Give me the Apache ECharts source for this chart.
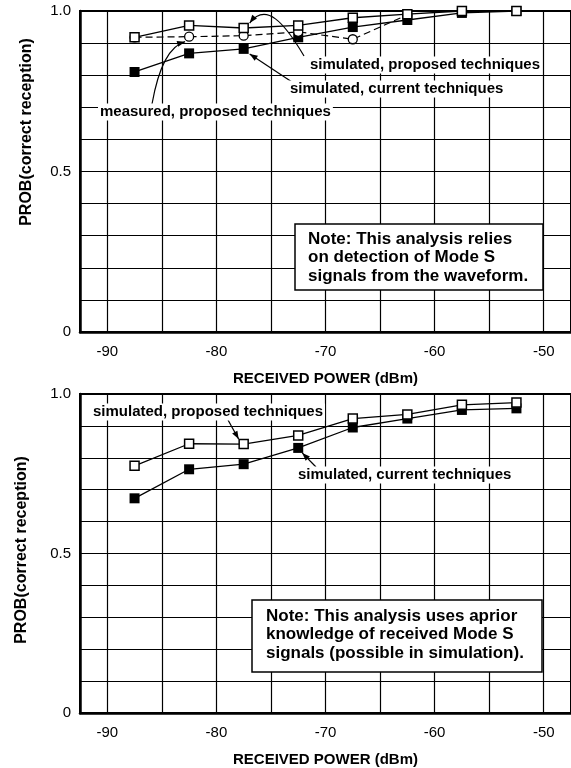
<!DOCTYPE html>
<html>
<head>
<meta charset="utf-8">
<script src="https://cdn.jsdelivr.net/npm/echarts@6/dist/echarts.min.js"></script>
<style>
  html, body { margin: 0; padding: 0; background: #fff; }
  #chart { width: 571px; height: 768px; }
</style>
</head>
<body>
<div id="chart"></div>
<script>
// Received power levels (dBm) at which reception probability was evaluated
const powerDbm = [-87.5, -82.5, -77.5, -72.5, -67.5, -62.5, -57.5, -52.5];
const measuredPowerDbm = [-87.5, -82.5, -77.5, -72.5, -67.5, -62.5];

// Upper panel: detection of Mode S signals from the waveform
const waveformSimProposed = [0.918, 0.955, 0.947, 0.955, 0.979, 0.990, 1.000, 1.000];
const waveformSimCurrent = [0.810, 0.868, 0.882, 0.918, 0.950, 0.972, 0.994, 1.000];
const waveformMeasuredProposed = [0.918, 0.920, 0.923, 0.935, 0.912, 0.988];

// Lower panel: a-priori knowledge of received Mode S signals
const aprioriSimProposed = [0.775, 0.844, 0.843, 0.870, 0.923, 0.936, 0.966, 0.973];
const aprioriSimCurrent = [0.673, 0.764, 0.780, 0.831, 0.895, 0.923, 0.950, 0.955];

// Axis ticks
const xTickLabels = [-90, -80, -70, -60, -50];
const xGridLines = [-90, -85, -80, -75, -70, -65, -60, -55, -50];
const yTickLabels = [[0, '0'], [0.5, '0.5'], [1, '1.0']];

const FONT = '"Liberation Sans", Arial, Helvetica, sans-serif';
const zip = (xs, ys) => ys.map((y, i) => [xs[i], y]);

function yLabel(v) {
  for (const [val, txt] of yTickLabels) {
    if (Math.abs(v - val) < 1e-6) return txt;
  }
  return '';
}

function makeXAxis(g) {
  return {
    type: 'value', gridIndex: g, min: -92.5, max: -47.5,
    name: 'RECEIVED POWER (dBm)', nameLocation: 'middle', nameGap: 39,
    nameTextStyle: { fontFamily: FONT, fontWeight: 'bold', fontSize: 15, color: '#000' },
    axisLine: { show: true, onZero: false, lineStyle: { color: '#000', width: 2.5 } },
    axisTick: { show: false },
    splitLine: { show: false },
    axisLabel: {
      customValues: xTickLabels, color: '#000', fontFamily: FONT, fontSize: 15, margin: 12,
      formatter: v => String(v)
    }
  };
}

function makeYAxis(g) {
  return {
    type: 'value', gridIndex: g, min: 0, max: 1, interval: 0.1,
    axisLine: { show: true, lineStyle: { color: '#000', width: 2.5 } },
    axisTick: { show: false },
    splitLine: { show: true, lineStyle: { color: '#000', width: 1.2 } },
    axisLabel: { color: '#000', fontFamily: FONT, fontSize: 15, margin: 9, formatter: yLabel }
  };
}

function gridLineSeries(g) {
  return {
    type: 'line', xAxisIndex: g, yAxisIndex: g, data: [], silent: true, z: 1,
    markLine: {
      silent: true, symbol: ['none', 'none'], label: { show: false }, animation: false,
      lineStyle: { color: '#000', width: 1.2, type: 'solid' },
      emphasis: { disabled: true },
      data: xGridLines.map(v => ({ xAxis: v }))
    }
  };
}

function openSquares(g, data) {
  return {
    type: 'line', xAxisIndex: g, yAxisIndex: g, data, z: 5,
    symbol: 'rect', symbolSize: 9, showAllSymbol: true,
    lineStyle: { color: '#000', width: 1.3 },
    itemStyle: { color: '#fff', borderColor: '#000', borderWidth: 1.5 }
  };
}

function filledSquares(g, data) {
  return {
    type: 'line', xAxisIndex: g, yAxisIndex: g, data, z: 3,
    symbol: 'rect', symbolSize: 10, showAllSymbol: true,
    lineStyle: { color: '#000', width: 1.3 },
    itemStyle: { color: '#000', borderColor: '#000', borderWidth: 0 }
  };
}

function openCircles(g, data) {
  return {
    type: 'line', xAxisIndex: g, yAxisIndex: g, data, z: 4,
    symbol: 'circle', symbolSize: 9, showAllSymbol: true,
    lineStyle: { color: '#000', width: 1.2, type: [7, 4] },
    itemStyle: { color: '#fff', borderColor: '#000', borderWidth: 1.3 }
  };
}

const chart = echarts.init(document.getElementById('chart'), null, { renderer: 'canvas' });

chart.setOption({
  animation: false,
  backgroundColor: '#fff',
  grid: [
    { left: 80, top: 11, width: 496, height: 321, show: true, borderColor: '#000', borderWidth: 2 },
    { left: 80, top: 394, width: 496, height: 323, show: true, borderColor: '#000', borderWidth: 2 }
  ],
  xAxis: [makeXAxis(0), makeXAxis(1)],
  yAxis: [makeYAxis(0), makeYAxis(1)],
  series: [
    gridLineSeries(0),
    gridLineSeries(1),
    filledSquares(0, zip(powerDbm, waveformSimCurrent)),
    openCircles(0, zip(measuredPowerDbm, waveformMeasuredProposed)),
    openSquares(0, zip(powerDbm, waveformSimProposed)),
    filledSquares(1, zip(powerDbm, aprioriSimCurrent)),
    openSquares(1, zip(powerDbm, aprioriSimProposed))
  ]
});

// ---- annotations: labels with leader arrows, note boxes, y-axis titles ----
const px = (g, x, y) => chart.convertToPixel({ gridIndex: g }, [x, y]);
const offset = (p, dx, dy) => [p[0] + dx, p[1] + dy];

function arrowHead(tip, from, len = 8, half = 3) {
  const dx = tip[0] - from[0], dy = tip[1] - from[1];
  const d = Math.hypot(dx, dy) || 1;
  const ux = dx / d, uy = dy / d;
  const bx = tip[0] - ux * len, by = tip[1] - uy * len;
  return {
    type: 'polygon', z: 20, silent: true,
    shape: { points: [tip, [bx - uy * half, by + ux * half], [bx + uy * half, by - ux * half]] },
    style: { fill: '#000' }
  };
}

function straightArrow(from, tip) {
  return [
    { type: 'line', z: 20, silent: true,
      shape: { x1: from[0], y1: from[1], x2: tip[0], y2: tip[1] },
      style: { stroke: '#000', lineWidth: 1.2 } },
    arrowHead(tip, from)
  ];
}

function curvedArrow(from, cp1, cp2, tip) {
  const shape = { x1: from[0], y1: from[1], x2: tip[0], y2: tip[1], cpx1: cp1[0], cpy1: cp1[1] };
  if (cp2) { shape.cpx2 = cp2[0]; shape.cpy2 = cp2[1]; }
  return [
    { type: 'bezierCurve', z: 20, silent: true, shape,
      style: { stroke: '#000', lineWidth: 1.2, fill: null } },
    arrowHead(tip, cp2 || cp1)
  ];
}

function label(text, x, y) {
  return {
    type: 'text', z: 21, silent: true, x, y,
    style: {
      text, fill: '#000', font: 'bold 15px ' + FONT,
      verticalAlign: 'middle', align: 'left',
      backgroundColor: '#fff', padding: [1, 2]
    }
  };
}

function noteBox(x, y, w, h, lines, tx, ty) {
  return [
    { type: 'rect', z: 21, silent: true, shape: { x, y, width: w, height: h },
      style: { fill: '#fff', stroke: '#000', lineWidth: 1.5 } },
    { type: 'text', z: 22, silent: true, x: tx, y: ty,
      style: { text: lines.join('\n'), fill: '#000', font: 'bold 17px ' + FONT,
               lineHeight: 18.5, verticalAlign: 'top', align: 'left' } }
  ];
}

function yTitle(cx, cy) {
  return {
    type: 'text', z: 21, silent: true, x: cx, y: cy, rotation: Math.PI / 2,
    style: { text: 'PROB(correct reception)', fill: '#000', font: 'bold 16px ' + FONT,
             align: 'center', verticalAlign: 'middle' }
  };
}

const topProp = px(0, powerDbm[2], waveformSimProposed[2]);
const topCurr = px(0, powerDbm[2], waveformSimCurrent[2]);
const topMeas = px(0, measuredPowerDbm[1], waveformMeasuredProposed[1]);
const botProp = px(1, powerDbm[2], aprioriSimProposed[2]);
const botCurr = px(1, powerDbm[3], aprioriSimCurrent[3]);

const graphics = [
  yTitle(27, 132),
  yTitle(22, 550),

  label('simulated, proposed techniques', 308, 65),
  ...curvedArrow([304, 56], [284, 22], [266, 2], offset(topProp, 6, -5)),
  label('simulated, current techniques', 288, 89),
  ...straightArrow([292, 82], offset(topCurr, 6, 5)),
  label('measured, proposed techniques', 98, 112),
  ...curvedArrow([152, 104], [162, 48], null, offset(topMeas, -4, 5)),

  ...noteBox(295, 224, 248, 66,
    ['Note: This analysis relies', 'on detection of Mode S', 'signals from the waveform.'], 308, 230),

  label('simulated, proposed techniques', 91, 412),
  ...straightArrow([228, 420], offset(botProp, -5, -5)),
  label('simulated, current techniques', 296, 475),
  ...straightArrow([316, 467], offset(botCurr, 4, 5)),

  ...noteBox(252, 600, 290, 72,
    ['Note: This analysis uses aprior', 'knowledge of received Mode S', 'signals (possible in simulation).'], 266, 607)
];

chart.setOption({ graphic: graphics });
</script>
</body>
</html>
